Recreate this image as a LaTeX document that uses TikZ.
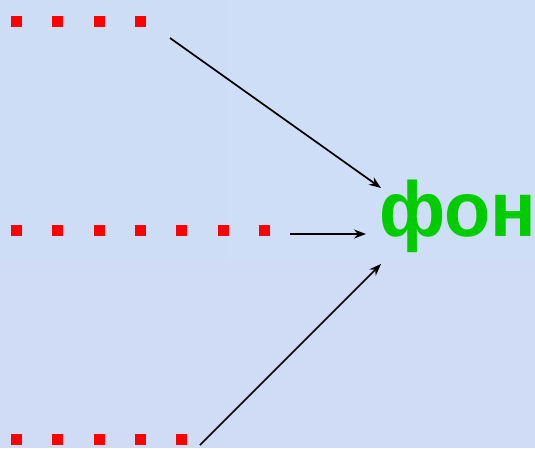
\documentclass[tikz,border=0pt]{standalone}
\usepackage{fontspec}
\setmainfont{Liberation Sans}
\usetikzlibrary{arrows.meta}

\definecolor{bgblue}{RGB}{202,226,248}
\definecolor{bglilac}{RGB}{216,212,244}
\definecolor{fongreen}{RGB}{0,204,0}

\tikzset{
  dot/.style={fill=red, minimum size=11pt, inner sep=0pt},
  pointer/.style={-{Stealth[length=12pt,width=9pt]}, line width=1.7pt},
}

\begin{document}
\begin{tikzpicture}[x=1pt,y=-1pt]
        \useasboundingbox (0,0) rectangle (535,448);
        \fill [bgblue](0,0) rectangle (535,448);
        \fill [bglilac, opacity=0.35](0,0) rectangle (228,260);
        \fill [bglilac, opacity=0.25](228,0) rectangle (535,260);
        \fill [bglilac, opacity=0.45](0,260) rectangle (535,448);

        % red dotted lines
        \foreach \x [count=\i] in {16.5,57.5,99.5,140.5}
            \node[dot] (a\i) at (\x,21.5) {};
        \foreach \x [count=\i] in {16.5,57.5,99.5,140.5,181.5,223.5,264.5}
            \node[dot] (b\i) at (\x,230.5) {};
        \foreach \x [count=\i] in {16.5,57.5,99.5,140.5,181.5}
            \node[dot] (c\i) at (\x,439) {};

        \node[anchor=base west, text=fongreen, xscale=0.97, font=\fontsize{78}{78}\selectfont\bfseries, inner sep=0pt] (fon) at (379,236) {фон};

        \coordinate (from1) at (170,38);
        \coordinate (from2) at (290,234);
        \coordinate (from3) at (200,445);
        \coordinate (to1) at (381,188);
        \coordinate (to2) at (366,234);
        \coordinate (to3) at (381,264);

        \draw[pointer] (from1) -- (to1);
        \draw[pointer] (from2) -- (to2);
        \draw[pointer] (from3) -- (to3);
\end{tikzpicture}
\end{document}
